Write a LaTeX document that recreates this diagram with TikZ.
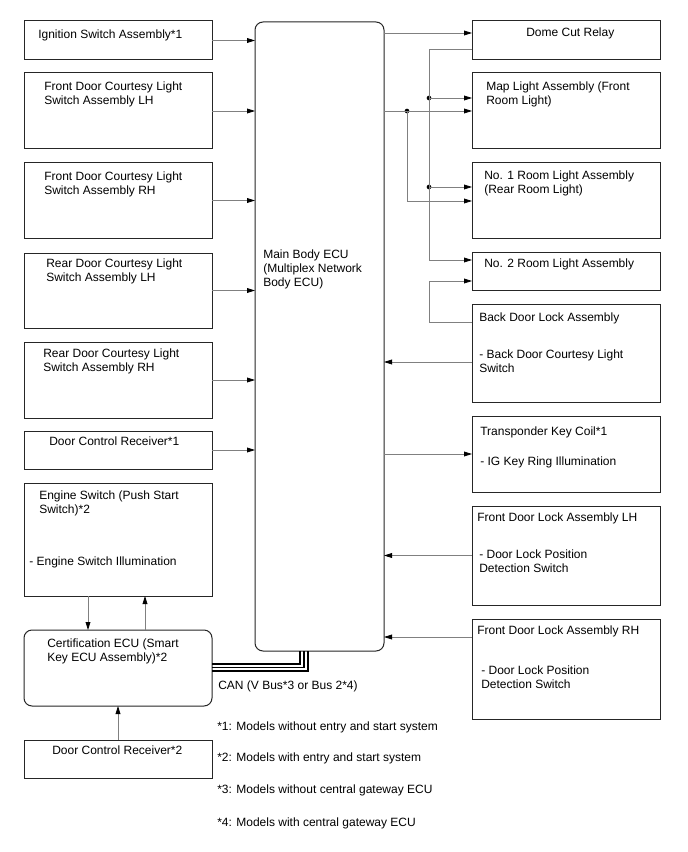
\documentclass[tikz,border=0pt]{standalone}
\usepackage{fontspec}
\setmainfont{Liberation Sans}
\usetikzlibrary{arrows.meta}
\newcommand\mybox[6]{\node[box,#6,minimum width={(#4-#2)*0.75pt},minimum height={(#5-#3)*0.75pt}] (#1) at (#2,#3) {};}
\begin{document}
\begin{tikzpicture}[x=0.75pt,y=-0.75pt,
  box/.style={draw=black!85, line width=0.75pt, inner sep=0pt, outer sep=0pt, anchor=north west},
  txt/.style={anchor=north west, inner sep=0pt, align=left, font=\fontsize{9}{10.5}\selectfont},
  conn/.style={draw=black!50, line width=0.6pt, -{Triangle[length=6pt,width=3.6pt,color=black]}},
  link/.style={draw=black!50, line width=0.6pt},
  can/.style={draw=black, line width=0.9pt},
  dot/.style={circle, fill=black, inner sep=0pt, minimum size=3.5pt}
]
\useasboundingbox[fill=white] (0,0) rectangle (688,852);
% left column
\mybox{ign}{24}{21}{212}{60}{}
\mybox{fdl}{24}{73}{212}{149}{}
\mybox{fdr}{24}{163}{212}{238}{}
\mybox{rdl}{24}{253}{212}{328}{}
\mybox{rdr}{24}{342}{212}{418}{}
\mybox{dcra}{24}{431}{212}{469}{}
\mybox{eng}{24}{483}{212}{596}{}
\mybox{cert}{24}{630}{212}{706}{rounded corners=6pt}
\mybox{dcrb}{24}{740}{212}{778}{}
% main ECU
\mybox{ecu}{255}{22}{384}{651}{rounded corners=6pt}
% right column
\mybox{dome}{472}{21}{660}{60}{}
\mybox{map}{472}{73}{660}{149}{}
\mybox{rla}{472}{163}{660}{238}{}
\mybox{rlb}{472}{252}{660}{290}{}
\mybox{back}{472}{304}{660}{402}{}
\mybox{trans}{472}{416}{660}{492}{}
\mybox{fdll}{472}{506}{660}{605}{}
\mybox{fdlr}{472}{619}{660}{719}{}

% texts
\node[txt] (tign) at (38,30) {Ignition Switch Assembly*1};
\node[txt] (tfdl) at (44,82) {Front Door Courtesy Light\\Switch Assembly LH};
\node[txt] (tfdr) at (44,172) {Front Door Courtesy Light\\Switch Assembly RH};
\node[txt] (trdl) at (46,259) {Rear Door Courtesy Light\\Switch Assembly LH};
\node[txt] (trdr) at (43,349) {Rear Door Courtesy Light\\Switch Assembly RH};
\node[txt] (tdcra) at (49,437) {Door Control Receiver*1};
\node[txt] (teng) at (39,491) {Engine Switch (Push Start\\Switch)*2};
\node[txt] (tengi) at (29,557) {- Engine Switch Illumination};
\node[txt] (tcert) at (47,639) {Certification ECU (Smart\\Key ECU Assembly)*2};
\node[txt] (tdcrb) at (52,746) {Door Control Receiver*2};
\node[txt] (tecu) at (263,250) {Main Body ECU\\(Multiplex Network\\Body ECU)};
\node[txt] (tdome) at (526,28) {Dome Cut Relay};
\node[txt] (tmap) at (486,82) {Map Light Assembly (Front\\Room Light)};
\node[txt] (trla) at (484,171) {No. 1 Room Light Assembly\\(Rear Room Light)};
\node[txt] (trlb) at (484,259) {No. 2 Room Light Assembly};
\node[txt] (tback) at (479,313) {Back Door Lock Assembly};
\node[txt] (tbacks) at (479,350) {- Back Door Courtesy Light\\Switch};
\node[txt] (ttrans) at (480,427) {Transponder Key Coil*1};
\node[txt] (ttranss) at (480,457) {- IG Key Ring Illumination};
\node[txt] (tfdll) at (477,513) {Front Door Lock Assembly LH};
\node[txt] (tfdlls) at (479,550) {- Door Lock Position\\Detection Switch};
\node[txt] (tfdlr) at (477,626) {Front Door Lock Assembly RH};
\node[txt] (tfdlrs) at (481,666) {- Door Lock Position\\Detection Switch};
\node[txt] (tcan) at (218,681) {CAN (V Bus*3 or Bus 2*4)};
\node[txt] (tf1) at (217,722) {*1: Models without entry and start system};
\node[txt] (tf2) at (217,753) {*2: Models with entry and start system};
\node[txt] (tf3) at (217,785) {*3: Models without central gateway ECU};
\node[txt] (tf4) at (217,818) {*4: Models with central gateway ECU};

% left connectors
\foreach \n in {ign,fdl,fdr,rdl,rdr,dcra}
  \draw[conn] (\n.east) -- (\n.east -| ecu.west);
\draw[conn] (eng.south -| 88,0) -- (cert.north -| 88,0);
\draw[conn] (cert.north -| 145,0) -- (eng.south -| 145,0);
\draw[conn] (dcrb.north) -- (cert.south);

% CAN bus
\draw[can] (ecu.south -| 300,0) -- (300,664) -- (cert.east |- 0,664);
\draw[can] (ecu.south -| 304,0) -- (304,667.5) -- (cert.east |- 0,667.5);
\draw[can] (ecu.south -| 308,0) -- (308,671) -- (cert.east |- 0,671);

% right connectors
\coordinate (ca) at (429,49);
\coordinate (cb) at (429,260);
\coordinate (cc) at (407,201);
\coordinate (cd) at (429,322);
\coordinate (ce) at (429,281);
\node[dot] (da) at (429,98) {};
\node[dot] (db) at (429,187) {};
\node[dot] (dc) at (407,111) {};
\draw[conn] (ecu.east |- 0,33) -- (dome.west |- 0,33);
\draw[conn] (dome.west |- ca) -- (ca) -- (cb) -- (cb -| rlb.west);
\draw[conn] (da.center) -- (da -| map.west);
\draw[conn] (db.center) -- (db -| rla.west);
\draw[conn] (ecu.east |- dc) -- (dc -| map.west);
\draw[conn] (dc.center) -- (cc) -- (cc -| rla.west);
\draw[conn] (back.west |- cd) -- (cd) -- (ce) -- (ce -| rlb.west);
\draw[conn] (back.west |- 0,362) -- (ecu.east |- 0,362);
\draw[conn] (ecu.east |- trans.west) -- (trans.west);
\draw[conn] (fdll.west) -- (fdll.west -| ecu.east);
\draw[conn] (fdlr.west |- 0,637) -- (ecu.east |- 0,637);
\end{tikzpicture}
\end{document}
